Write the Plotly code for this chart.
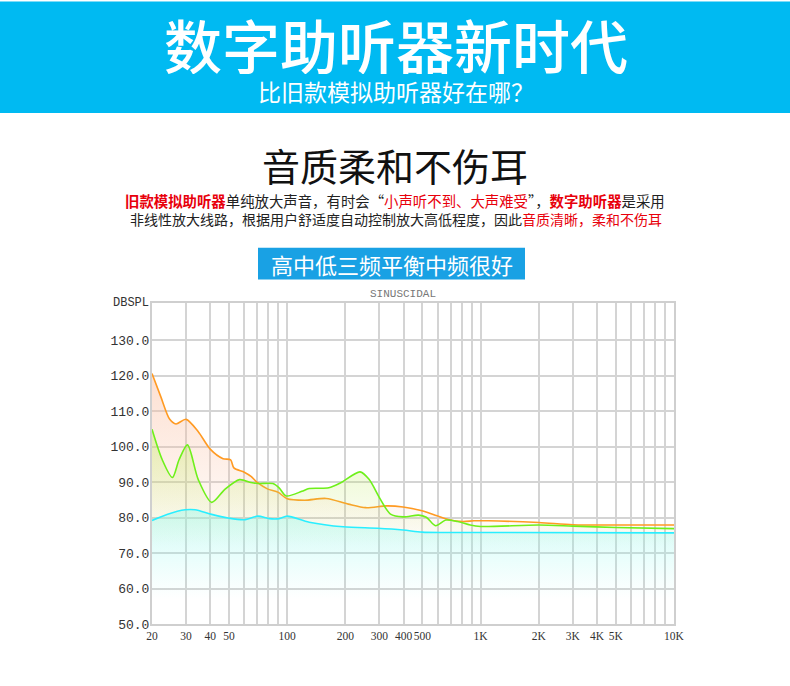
import numpy as np
import plotly.graph_objects as go

# x axis: frequency in Hz (log scale), gridline at every 1-9 step
grid_freqs = [20, 30, 40, 50, 60, 70, 80, 90,
              100, 200, 300, 400, 500, 600, 700, 800, 900,
              1000, 2000, 3000, 4000, 5000, 6000, 7000, 8000, 9000, 10000]
freq_labels = {20: "20", 30: "30", 40: "40", 50: "50", 100: "100", 200: "200",
               300: "300", 400: "400", 500: "500", 1000: "1K", 2000: "2K",
               3000: "3K", 4000: "4K", 5000: "5K", 10000: "10K"}
db_ticks = [50, 60, 70, 80, 90, 100, 110, 120, 130]

# old analog hearing aid (orange)
orange_freq = [20, 22.2, 24.7, 26.6, 30, 34.7, 40, 46.6, 51, 53, 60, 65, 70, 79, 90,
               100, 123, 159, 207, 255, 326, 397, 498, 595, 686, 809, 926, 1094,
               2000, 3000, 5000, 10000]
orange_db = [120.6, 114.1, 107.7, 106.4, 107.7, 104.2, 99.3, 96.6, 96.3, 94.0, 92.8, 91.6,
             89.9, 88.1, 87.1, 85.3, 84.9, 85.4, 83.8, 82.8, 83.3, 83.0, 81.9, 80.5,
             79.4, 78.9, 79.1, 79.1, 78.6, 78.0, 77.9, 77.9]

# green curve
green_freq = [20, 22.6, 25.5, 27.6, 30.5, 34.7, 40.7, 47.5, 56.7, 65, 70.5, 84.4, 91.1,
              98.8, 119, 130, 164, 189, 238, 265, 303, 342, 397, 478, 524, 585, 661,
              760, 884, 1000, 2000, 3000, 5000, 10000]
green_db = [104.9, 96.3, 91.3, 96.3, 100.5, 90.7, 84.3, 87.9, 90.7, 89.9, 89.6, 89.6, 88.3,
            86.1, 87.4, 88.2, 88.4, 89.8, 92.9, 90.8, 85.2, 81.0, 80.2, 80.7, 80.1, 77.7,
            79.3, 78.9, 77.9, 77.5, 77.9, 77.6, 77.2, 76.9]

# digital hearing aid (cyan)
cyan_freq = [20, 23.9, 29.7, 33.4, 40.7, 49.4, 60, 70.5, 81, 91, 100, 130, 195, 294,
             397, 498, 661, 1094, 10000]
cyan_db = [79.2, 80.9, 82.2, 82.2, 80.9, 79.9, 79.4, 80.4, 79.7, 79.7, 80.4, 78.7, 77.4,
           77.0, 76.5, 75.9, 75.8, 75.8, 75.7]

# plot area in pixels (figure is 790 x 686)
L, R, T, B = 152, 674, 302.5, 624.5


def px(x):
    return (x - L) / (R - L)


def py(y):
    return (B - y) / (B - T)


fig = go.Figure()

series = [
    (orange_freq, orange_db, "#ff9a22", "rgba(250,190,160,0.48)", "rgba(250,190,160,0.0)", 70, 121),
    (green_freq, green_db, "#6ef01a", "rgba(190,235,90,0.32)", "rgba(190,235,90,0.0)", 72, 100),
    (cyan_freq, cyan_db, "#2aeeff", "rgba(140,250,238,0.40)", "rgba(140,250,238,0.0)", 57, 82),
]
for fx, fy, lc, top_c, low_c, g0, g1 in series:
    fig.add_trace(go.Scatter(
        x=fx, y=fy, mode="lines",
        line=dict(color=lc, width=1.6, shape="spline", smoothing=0.8),
        fill="tozeroy",
        fillgradient=dict(type="vertical", start=g0, stop=g1,
                          colorscale=[[0, low_c], [1, top_c]]),
        hoverinfo="skip", showlegend=False,
    ))

mono = "Liberation Mono"
fig.update_xaxes(
    type="log", range=[np.log10(20), np.log10(10000)],
    tickmode="array", tickvals=grid_freqs,
    ticktext=[freq_labels.get(f, "") for f in grid_freqs],
    tickangle=0,
    showgrid=True, gridcolor="#d4d4d4", gridwidth=1.5,
    showline=True, linecolor="#cfcfcf", linewidth=2, mirror=True,
    ticks="", tickfont=dict(family="Liberation Serif", size=11.5, color="#333333"),
    zeroline=False,
)
fig.update_yaxes(
    range=[50, 140.5], tickmode="array", tickvals=db_ticks,
    ticktext=["%.1f" % v for v in db_ticks],
    showgrid=True, gridcolor="#d4d4d4", gridwidth=1.5,
    showline=True, linecolor="#cfcfcf", linewidth=2, mirror=True,
    ticks="", ticklabelstandoff=-2,
    tickfont=dict(family=mono, size=13, color="#333333"), zeroline=False,
)

cjk = "Noto Sans CJK SC"
red = "#e8000b"

shapes = [
    dict(type="rect", xref="paper", yref="paper", x0=px(0), x1=px(790), y0=py(112), y1=py(0),
         fillcolor="#00baf2", line=dict(width=0), layer="below"),
    dict(type="rect", xref="paper", yref="paper", x0=px(258), x1=px(525), y0=py(279), y1=py(247),
         fillcolor="#19a1e4", line=dict(width=0), layer="below"),
]

line1 = ("<span style='color:%s'><b>旧款模拟助听器</b></span>单纯放大声音，有时会“"
         "<span style='color:%s'>小声听不到、大声难受</span>”，"
         "<span style='color:%s'><b>数字助听器</b></span>是采用") % (red, red, red)
line2 = ("非线性放大线路，根据用户舒适度自动控制放大高低程度，因此"
         "<span style='color:%s'>音质清晰，柔和不伤耳</span>") % red

# text, center x, center y, size, colour, weight, box height
texts = [
    ("数字助听器新时代", 396, 42.5, 58, "white", 500, 60),
    ("比旧款模拟助听器好在哪？", 396, 90, 23, "white", 400, 26),
    ("音质柔和不伤耳", 395, 163, 38, "#111111", 400, 44),
    (line1, 395, 199, 14.4, "#222222", 400, 18),
    (line2, 396, 218, 14, "#222222", 400, 18),
    ("高中低三频平衡中频很好", 392, 263, 22, "white", 400, 28),
]
annotations = []
for t, x, y, s, c, w, h in texts:
    annotations.append(dict(text=t, x=px(x), y=py(y), xref="paper", yref="paper",
                            xanchor="center", yanchor="middle", showarrow=False,
                            height=h, valign="middle",
                            font=dict(family=cjk, size=s, color=c, weight=w)))

annotations.append(dict(text="SINUSCIDAL", x=px(403), y=py(293), xref="paper", yref="paper",
                        xanchor="center", yanchor="middle", showarrow=False,
                        font=dict(family=mono, size=11, color="#777777")))
annotations.append(dict(text="DBSPL", x=px(151), y=py(302), xref="paper", yref="paper",
                        xanchor="right", yanchor="middle", showarrow=False,
                        font=dict(family=mono, size=12, color="#333333")))

fig.update_layout(
    width=790, height=686,
    margin=dict(l=L, r=790 - R, t=T, b=686 - B),
    paper_bgcolor="white", plot_bgcolor="white",
    shapes=shapes, annotations=annotations,
    hovermode=False,
)

fig.write_html("out.html", config={"displayModeBar": False},
               post_script="document.body.style.margin='0';"
                           "document.documentElement.style.overflow='hidden';")
